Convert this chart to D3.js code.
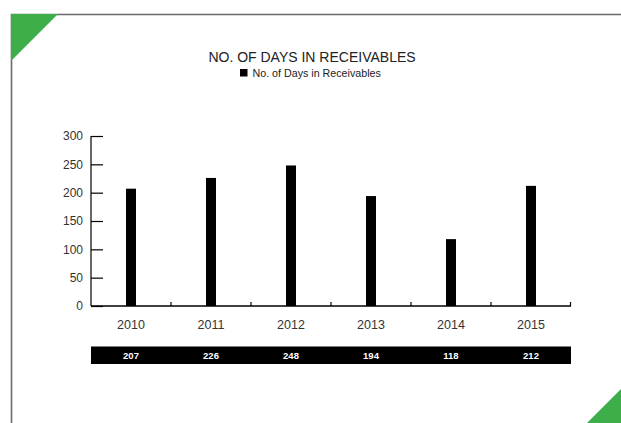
<!DOCTYPE html>
<html>
<head>
<meta charset="utf-8">
<script src="https://cdn.jsdelivr.net/npm/d3@7"></script>
<style>
  html, body { margin: 0; padding: 0; background: #fff; }
  svg { display: block; font-family: "Liberation Sans", Arial, Helvetica, sans-serif; }
</style>
</head>
<body>
<svg id="chart" width="621" height="423"></svg>
<script>
// Receivables data
const years = ["2010", "2011", "2012", "2013", "2014", "2015"];
const daysInReceivables = [207, 226, 248, 194, 118, 212];
const yTicks = [0, 50, 100, 150, 200, 250, 300];
const chartTitle = "NO. OF DAYS IN RECEIVABLES";
const seriesName = "No. of Days in Receivables";

(function () {
  const svg = d3.select("#chart");
  const W = 621, H = 423;
  const green = "#3dae49";

  // Page frame and corner accents
  svg.append("path")
    .attr("d", `M11.5,${H} L11.5,14.5 L${W},14.5`)
    .attr("fill", "none").attr("stroke", "#6a6a6a").attr("stroke-width", 1.6);
  svg.append("path").attr("d", "M11,14 L58,14 L11,61 Z").attr("fill", green);
  svg.append("path").attr("d", `M${W},389 L${W},${H} L587,${H} Z`).attr("fill", green);

  // Plot area
  const plotLeft = 91, plotRight = 571, plotTop = 136, plotBottom = 306;
  const x = d3.scaleBand().domain(years).range([plotLeft, plotRight]);
  const y = d3.scaleLinear().domain([0, 300]).range([plotBottom, plotTop]);

  // Title and legend
  svg.append("text").attr("x", 312).attr("y", 61.5).attr("text-anchor", "middle")
    .attr("font-size", 14).attr("fill", "#222").text(chartTitle);
  svg.append("rect").attr("x", 240).attr("y", 69).attr("width", 7.5).attr("height", 7.5).attr("fill", "#000");
  svg.append("text").attr("x", 252.5).attr("y", 77).attr("font-size", 10.7).attr("fill", "#222").text(seriesName);

  // Bars
  svg.append("g").selectAll("rect").data(years).join("rect")
    .attr("x", d => x(d) + x.bandwidth() / 2 - 5)
    .attr("width", 10)
    .attr("y", (d, i) => y(daysInReceivables[i]))
    .attr("height", (d, i) => plotBottom - y(daysInReceivables[i]))
    .attr("fill", "#000");

  // Y axis
  const yAxis = svg.append("g").attr("transform", `translate(${plotLeft},0)`)
    .call(d3.axisRight(y).tickValues(yTicks).tickSize(12).tickFormat(d3.format("d")));
  yAxis.select(".domain").attr("d", `M0,${plotTop}V${plotBottom}`).attr("stroke", "#000").attr("stroke-width", 1.2);
  yAxis.selectAll(".tick line").attr("stroke", "#000").attr("stroke-width", 1.2);
  yAxis.selectAll(".tick text").attr("x", -8).attr("text-anchor", "end")
    .attr("font-size", 12).attr("fill", "#333").attr("font-family", "Liberation Sans, Arial, sans-serif");

  // X axis: baseline with small inward ticks at band edges
  const xg = svg.append("g");
  xg.append("line").attr("x1", plotLeft).attr("x2", plotRight).attr("y1", plotBottom).attr("y2", plotBottom)
    .attr("stroke", "#000").attr("stroke-width", 1.4);
  const edges = years.slice(1).map(d => x(d)).concat([plotRight - 0.5]);
  xg.selectAll("line.edge").data(edges).join("line").attr("class", "edge")
    .attr("x1", d => d).attr("x2", d => d).attr("y1", plotBottom).attr("y2", plotBottom - 4)
    .attr("stroke", "#000").attr("stroke-width", 1.2);
  xg.selectAll("text").data(years).join("text")
    .attr("x", d => x(d) + x.bandwidth() / 2).attr("y", 329)
    .attr("text-anchor", "middle").attr("font-size", 12.5).attr("fill", "#333").text(d => d);

  // Data table strip
  svg.append("rect").attr("x", plotLeft).attr("y", 346.5).attr("width", plotRight - plotLeft).attr("height", 17.5).attr("fill", "#000");
  svg.append("g").selectAll("text").data(years).join("text")
    .attr("x", d => x(d) + x.bandwidth() / 2).attr("y", 358.5)
    .attr("text-anchor", "middle").attr("font-size", 9.5).attr("font-weight", "bold").attr("fill", "#fff")
    .text((d, i) => daysInReceivables[i]);
})();
</script>
</body>
</html>
